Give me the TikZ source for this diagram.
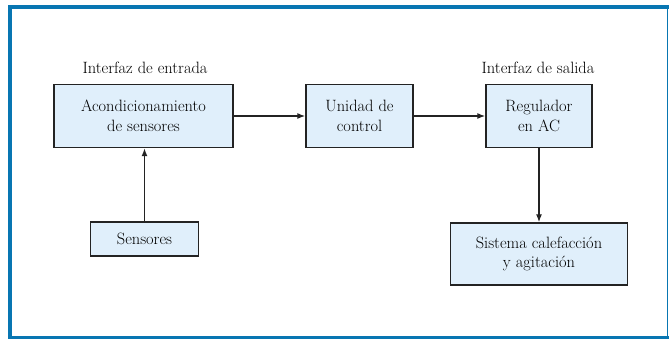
\documentclass[tikz,border=0pt]{standalone}
\usepackage{fontspec}
\usetikzlibrary{arrows.meta,calc}
\definecolor{FrameClr}{RGB}{8,118,178}
\definecolor{BoxClr}{RGB}{224,239,251}
\definecolor{LineClr}{RGB}{35,35,35}

\begin{document}
\begin{tikzpicture}[x=1pt,y=-1pt,
  blok/.style={draw=LineClr,fill=BoxClr,line width=1.4pt,align=center,inner sep=0pt,
    font=\fontsize{16.4}{19.5}\selectfont},
  etiq/.style={font=\fontsize{16.4}{19.5}\selectfont,inner sep=0pt},
  flecha/.style={-{Latex[length=8pt,width=6pt]},line width=1.3pt,color=LineClr}]
\useasboundingbox (0,0) rectangle (669,339);

% marco
\draw[FrameClr,line width=4pt] (669,7) -- (10,7) -- (10,337.5) -- (669,337.5);
\draw[FrameClr,line width=1.2pt] (667.5,7) -- (667.5,337.5);

% bloques
\node[blok,minimum width=179pt,minimum height=63pt] (acond) at (143.5,116) {Acondicionamiento\\de sensores};
\node[blok,minimum width=107pt,minimum height=63pt] (unidad) at (359.5,116) {Unidad de\\control};
\node[blok,minimum width=106pt,minimum height=63pt] (regul) at (539,116) {Regulador\\en AC};
\node[blok,minimum width=108pt,minimum height=34pt] (sensores) at (144.5,239) {Sensores};
\node[blok,minimum width=177pt,minimum height=62pt] (sistema) at (539,254) {Sistema calefacción\\y agitación};

% etiquetas
\node[etiq] (lblIn) at (145,68) {Interfaz de entrada};
\node[etiq] (lblOut) at (538,68) {Interfaz de salida};

% flechas
\draw[flecha] (acond) -- (unidad);
\draw[flecha] (unidad) -- (regul);
\draw[flecha] (sensores) -- (sensores |- acond.south);
\draw[flecha] (regul) -- (sistema);

\end{tikzpicture}
\end{document}
